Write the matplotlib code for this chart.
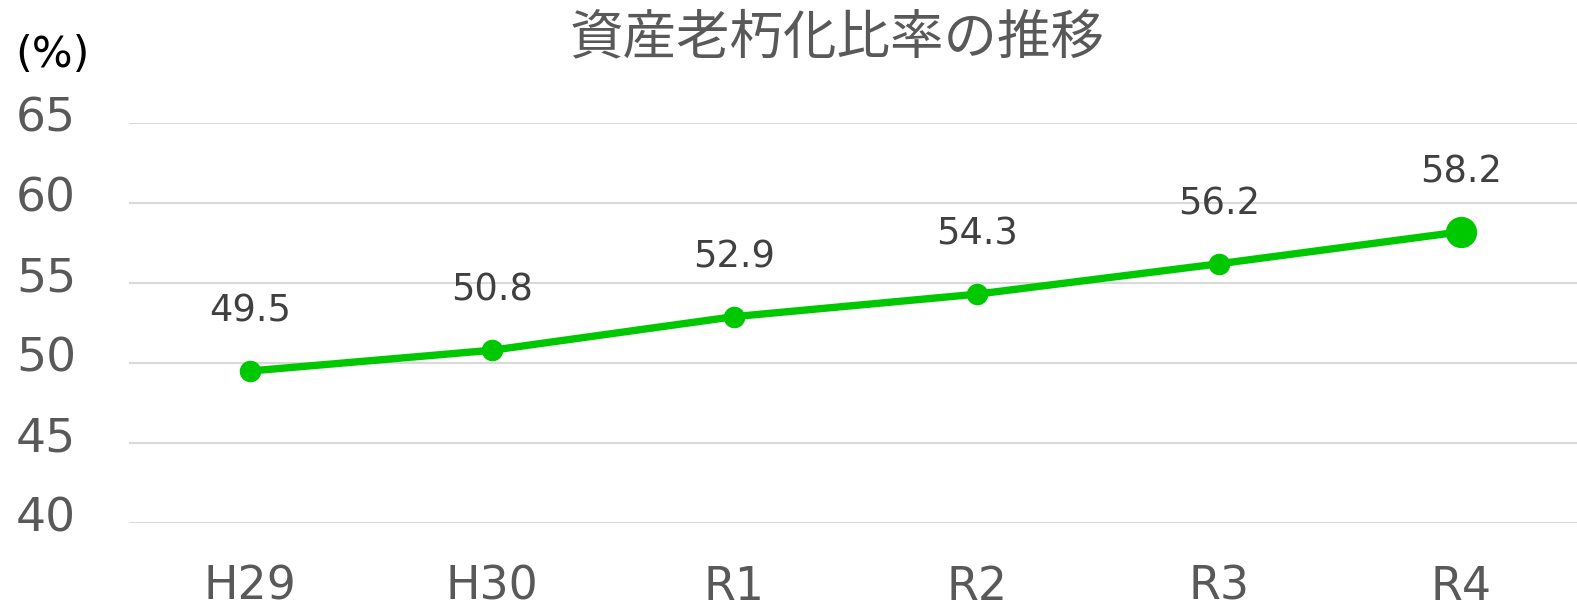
import matplotlib.pyplot as plt
import matplotlib.transforms as mtransforms

plt.rcParams['font.family'] = ['DejaVu Sans', 'Noto Sans CJK JP']

categories = ['H29', 'H30', 'R1', 'R2', 'R3', 'R4']
ratios = [49.5, 50.8, 52.9, 54.3, 56.2, 58.2]
yticks = [40, 45, 50, 55, 60, 65]

green = '#00c800'
gray = '#595959'

fig = plt.figure(figsize=(15.77, 6.16), dpi=100)
ax = fig.add_axes([129 / 1577, 93 / 616, 1453 / 1577, 400 / 616])

x = list(range(len(categories)))
ax.plot(x, ratios, color=green, lw=5.3, marker='o', ms=14.5, zorder=3,
        solid_capstyle='round')
# last point drawn bigger
ax.plot(x[-1], ratios[-1], 'o', color=green, ms=21.5, zorder=4)

for xi, v in zip(x, ratios):
    ax.annotate(f'{v:.1f}', (xi, v), xytext=(0, 43), textcoords='offset points',
                ha='center', va='center', fontsize=26.5, color='#404040')

ax.set_xlim(-0.5, 5.5)
ax.set_ylim(40, 65)
ax.set_xticks(x)
ax.set_xticklabels(categories)
ax.set_yticks(yticks)
ax.grid(axis='y', color='#d9d9d9', lw=1.5)
ax.set_axisbelow(True)
for s in ax.spines.values():
    s.set_visible(False)
ax.tick_params(length=0, labelsize=33, colors=gray)
ax.tick_params(axis='x', pad=30)
ax.tick_params(axis='y', labelleft=False)

# y labels sit a little above their gridlines, like the original
trans = mtransforms.blended_transform_factory(fig.transFigure, ax.transData)
trans = mtransforms.offset_copy(trans, fig=fig, x=0, y=4, units='dots')
for t in yticks:
    ax.text(16 / 1577, t, str(t), transform=trans, ha='left', va='center',
            fontsize=34, color=gray)

fig.text(837 / 1577, 1 - 38 / 616, '資産老朽化比率の推移', ha='center', va='center',
         fontsize=38.5, color=gray, family=['Noto Sans CJK JP', 'DejaVu Sans'])
fig.text(52 / 1577, 1 - 55 / 616, '(%)', ha='center', va='center',
         fontsize=31, color='black')

fig.savefig('out.png', dpi=100)
